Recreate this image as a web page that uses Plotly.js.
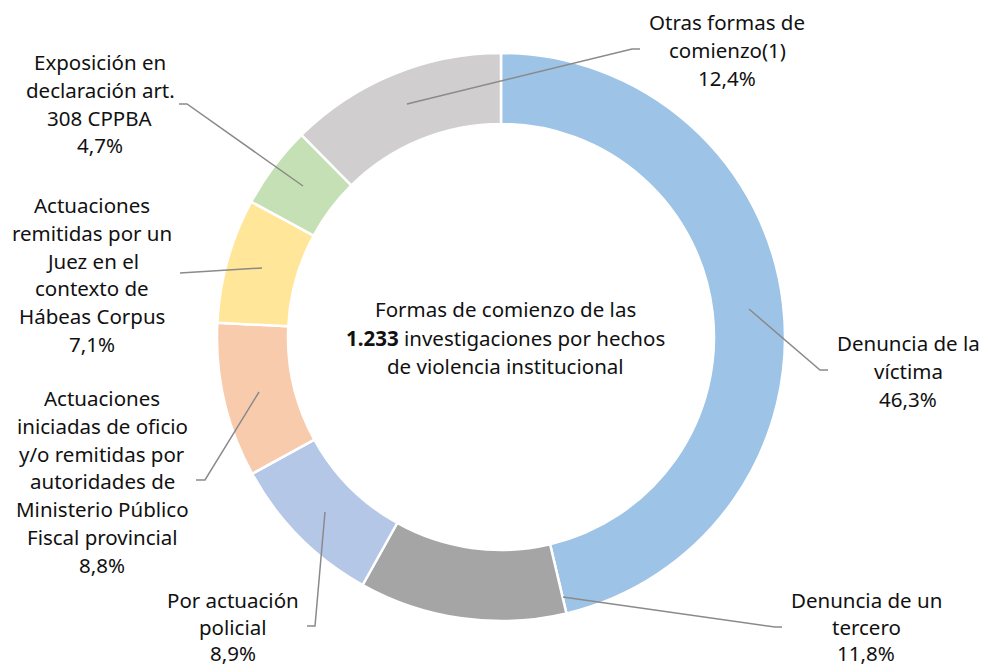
<!DOCTYPE html>
<html>
<head>
<meta charset="utf-8">
<script src="https://cdn.plot.ly/plotly-3.0.1.min.js"></script>
<style>html,body{margin:0;padding:0;background:#fff;}#chart{width:985px;height:666px;}</style>
</head>
<body>
<div id="chart"></div>
<script>
// ---- data ----
const categories = [
  "Denuncia de la víctima",
  "Denuncia de un tercero",
  "Por actuación policial",
  "Actuaciones iniciadas de oficio y/o remitidas por autoridades de Ministerio Público Fiscal provincial",
  "Actuaciones remitidas por un Juez en el contexto de Hábeas Corpus",
  "Exposición en declaración art. 308 CPPBA",
  "Otras formas de comienzo(1)"
];
const values = [46.3, 11.8, 8.9, 8.8, 7.1, 4.7, 12.4];
const labelLines = [
  ["Denuncia de la", "víctima"],
  ["Denuncia de un", "tercero"],
  ["Por actuación", "policial"],
  ["Actuaciones", "iniciadas de oficio", "y/o remitidas por", "autoridades de", "Ministerio Público", "Fiscal provincial"],
  ["Actuaciones", "remitidas por un", "Juez en el", "contexto de", "Hábeas Corpus"],
  ["Exposición en", "declaración art.", "308 CPPBA"],
  ["Otras formas de", "comienzo(1)"]
];
const centerLines = ["Formas de comienzo de las", "<b>1.233</b> investigaciones por hechos", "de violencia institucional"];
const colors = ["#9DC3E6", "#A5A5A5", "#B4C7E7", "#F8CBAD", "#FFE699", "#C5E0B4", "#D0CECE"];

// ---- layout helpers ----
const W = 985, H = 666;
const px = x => x / W;
const py = y => 1 - y / H;
const fmt = v => v.toFixed(1).replace(".", ",") + "%";

// label block positions (center x, first line y, line height) in pixels
const labelPos = [
  [908, 343, 27.8], [866, 600, 26.5], [233, 600, 26.5], [102, 398, 27.8], [92, 205, 27.8], [100, 62, 27.8], [727, 22, 27.8]
];
// leader line paths in pixels
const leaders = [
  [[749, 309], [820, 370], [828, 370]],
  [[563, 597], [775, 627], [782, 627]],
  [[325, 512], [315, 626], [307, 626]],
  [[259, 392], [205, 480], [196, 480]],
  [[262, 268], [180, 273]],
  [[303, 186], [187, 104], [179, 104]],
  [[407, 104], [632, 49], [640, 49]]
];
const font = {family: "Noto Sans, sans-serif", size: 20.5, color: "#111111"};

const annotations = [];
labelLines.forEach((lines, i) => {
  const all = lines.concat([fmt(values[i])]);
  const [lx, ly, lh] = labelPos[i];
  all.forEach((t, k) => {
    annotations.push({
      text: t, xref: "paper", yref: "paper",
      x: px(lx), y: py(ly + k * lh),
      xanchor: "center", yanchor: "middle", showarrow: false, font: font
    });
  });
});
centerLines.forEach((t, k) => {
  annotations.push({
    text: t, xref: "paper", yref: "paper",
    x: px(505), y: py(309 + k * 28.5),
    xanchor: "center", yanchor: "middle", showarrow: false, font: font
  });
});

const shapes = leaders.map(pts => ({
  type: "path", xref: "paper", yref: "paper",
  path: pts.map((p, j) => (j ? "L" : "M") + px(p[0]) + "," + py(p[1])).join(" "),
  line: {color: "#8a8a8a", width: 1.5}
}));

const cx = 501, cy = 337, R = 284;
const data = [{
  type: "pie",
  labels: categories,
  values: values,
  sort: false,
  direction: "clockwise",
  rotation: 0,
  hole: 0.75,
  textinfo: "none",
  hoverinfo: "label+percent",
  marker: {colors: colors, line: {color: "#ffffff", width: 2.5}},
  domain: {x: [px(cx - R), px(cx + R)], y: [py(cy + R), py(cy - R)]},
  showlegend: false
}];

const layout = {
  width: W, height: H,
  margin: {l: 0, r: 0, t: 0, b: 0},
  paper_bgcolor: "#ffffff",
  showlegend: false,
  annotations: annotations,
  shapes: shapes
};

Plotly.newPlot("chart", data, layout, {displayModeBar: false, staticPlot: true});
</script>
</body>
</html>
